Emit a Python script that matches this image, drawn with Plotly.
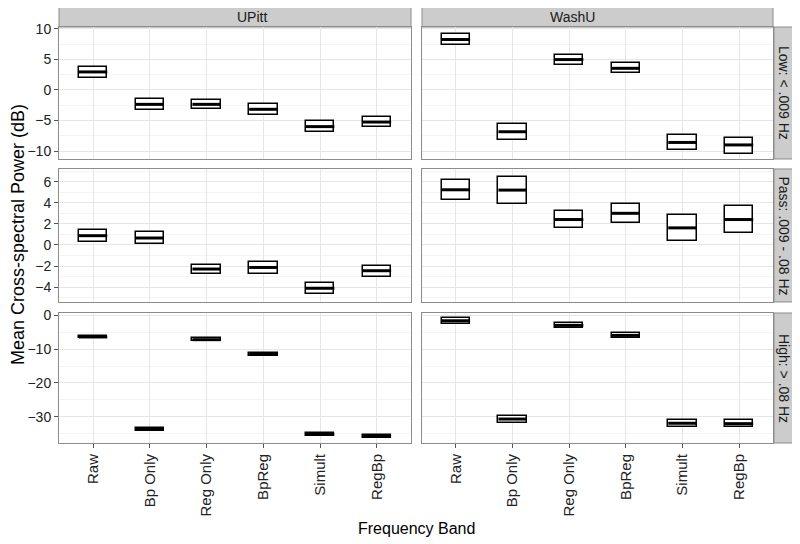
import plotly.graph_objects as go
from plotly.subplots import make_subplots

categories = ["Raw", "Bp Only", "Reg Only", "BpReg", "Simult", "RegBp"]
sites = ["UPitt", "WashU"]
bands = ["Low: < .009 Hz", "Pass: .009 - .08 Hz", "High: > .08 Hz"]

# mean, lower, upper per band (row) and site (column)
low_upitt_mean = [2.95, -2.36, -2.36, -3.17, -6.0, -5.25]
low_upitt_lo = [1.95, -3.24, -3.12, -4.1, -6.9, -6.12]
low_upitt_hi = [3.72, -1.47, -1.65, -2.3, -5.13, -4.42]
low_washu_mean = [8.25, -6.84, 4.97, 3.54, -8.59, -9.0]
low_washu_lo = [7.37, -8.15, 4.08, 2.72, -9.85, -10.4]
low_washu_hi = [9.18, -5.62, 5.8, 4.42, -7.38, -7.8]

pass_upitt_mean = [0.88, 0.66, -2.28, -2.13, -4.1, -2.44]
pass_upitt_lo = [0.32, 0.1, -2.78, -2.75, -4.65, -3.03]
pass_upitt_hi = [1.4, 1.21, -1.88, -1.6, -3.6, -1.98]
pass_washu_mean = [5.23, 5.2, 2.41, 3.0, 1.62, 2.41]
pass_washu_lo = [4.27, 3.89, 1.57, 2.11, 0.38, 1.1]
pass_washu_hi = [6.13, 6.47, 3.22, 3.84, 2.87, 3.69]

high_upitt_mean = [-6.4, -33.7, -7.2, -11.55, -35.2, -35.8]
high_upitt_lo = [-6.8, -34.1, -7.6, -11.95, -35.6, -36.2]
high_upitt_hi = [-6.0, -33.3, -6.8, -11.15, -34.8, -35.4]
high_washu_mean = [-1.6, -30.7, -2.96, -5.93, -31.95, -32.07]
high_washu_lo = [-2.46, -31.87, -3.76, -6.8, -33.05, -33.1]
high_washu_hi = [-0.8, -29.7, -2.18, -5.24, -30.9, -30.97]

data = [
    [(low_upitt_mean, low_upitt_lo, low_upitt_hi), (low_washu_mean, low_washu_lo, low_washu_hi)],
    [(pass_upitt_mean, pass_upitt_lo, pass_upitt_hi), (pass_washu_mean, pass_washu_lo, pass_washu_hi)],
    [(high_upitt_mean, high_upitt_lo, high_upitt_hi), (high_washu_mean, high_washu_lo, high_washu_hi)],
]

y_ranges = [[-11.3, 10.3], [-5.4, 7.2], [-37.8, 0.7]]
y_dticks = [5, 2, 10]

fig = make_subplots(rows=3, cols=2)

xpos = list(range(1, len(categories) + 1))
half = 0.25
for r in range(3):
    for c in range(2):
        mean, lo, hi = data[r][c]
        fig.add_trace(go.Bar(
            x=xpos, y=[h - l for h, l in zip(hi, lo)], base=lo, width=0.5,
            marker=dict(color="white", line=dict(color="black", width=1.5)),
            showlegend=False, hoverinfo="skip"), row=r + 1, col=c + 1)
        mx, my = [], []
        for xi, m in zip(xpos, mean):
            mx += [xi - half, xi + half, None]
            my += [m, m, None]
        fig.add_trace(go.Scatter(
            x=mx, y=my, mode="lines", line=dict(color="black", width=3),
            showlegend=False, hoverinfo="skip"), row=r + 1, col=c + 1)

grid_major = "#e6e6e6"
grid_minor = "#f4f4f4"
border = "#8c8c8c"
FONT = "Liberation Sans, Arial"

x_domains = [[0.0, 0.493], [0.5084, 1.0]]
y_domains = [[0.6827, 1.0], [0.339, 0.6587], [0.0, 0.3125]]

for r in range(3):
    for c in range(2):
        idx = r * 2 + c + 1
        xa = "xaxis" if idx == 1 else f"xaxis{idx}"
        ya = "yaxis" if idx == 1 else f"yaxis{idx}"
        bottom = r == 2
        left = c == 0
        fig.layout[xa].update(
            domain=x_domains[c], range=[0.4, 6.6],
            tickmode="array", tickvals=xpos,
            ticktext=categories if bottom else [""] * 6,
            showticklabels=bottom, tickangle=-90,
            ticks="outside" if bottom else "", ticklen=4, tickcolor="#555555",
            showgrid=True, gridcolor=grid_major, gridwidth=1,
            showline=True, mirror=True, linecolor=border, linewidth=1,
            zeroline=False, automargin=False,
            tickfont=dict(family=FONT, size=15, color="#222222"),
        )
        fig.layout[ya].update(
            domain=y_domains[r], range=y_ranges[r],
            dtick=y_dticks[r], tick0=0,
            showticklabels=left,
            ticks="outside" if left else "", ticklen=4, tickcolor="#555555",
            showgrid=True, gridcolor=grid_major, gridwidth=1,
            minor=dict(dtick=y_dticks[r] / 2, showgrid=True, gridcolor=grid_minor, gridwidth=1, ticks=""),
            showline=True, mirror=True, linecolor=border, linewidth=1,
            zeroline=False, automargin=False,
            tickfont=dict(family=FONT, size=14, color="#222222"),
        )

# page body has an 8px offset; compensate so the plot area sits at 59..773 x 27..443
W, H = 792, 536
L, R, T, B = 51, 27, 19, 101
pw, ph = W - L - R, H - T - B

shapes = []
annotations = []
strip_fill = "#cccccc"
strip_line = "#8c8c8c"
# top strips
strip_top = 21 / ph
for c in range(2):
    shapes.append(dict(type="rect", xref="paper", yref="paper",
                       x0=x_domains[c][0], x1=x_domains[c][1], y0=1.0, y1=1.0 + strip_top,
                       fillcolor=strip_fill, line=dict(color=strip_line, width=1), layer="below"))
    annotations.append(dict(xref="paper", yref="paper",
                            x=(x_domains[c][0] + x_domains[c][1]) / 2, y=1.0 + strip_top / 2,
                            text=sites[c], showarrow=False, yanchor="middle",
                            font=dict(family=FONT, size=14, color="#1a1a1a")))
# right strips
sx0 = 1.0 + 1 / pw
sx1 = 1.0 + 21 / pw
for r in range(3):
    shapes.append(dict(type="rect", xref="paper", yref="paper",
                       x0=sx0, x1=sx1, y0=y_domains[r][0], y1=y_domains[r][1],
                       fillcolor=strip_fill, line=dict(color=strip_line, width=1), layer="below"))
    annotations.append(dict(xref="paper", yref="paper",
                            x=(sx0 + sx1) / 2, y=(y_domains[r][0] + y_domains[r][1]) / 2,
                            text=bands[r], showarrow=False, textangle=90,
                            xanchor="center", yanchor="middle",
                            font=dict(family=FONT, size=14, color="#1a1a1a")))
# axis titles
annotations.append(dict(xref="paper", yref="paper", x=0.5, y=-(528 - 443) / ph,
                        text="Frequency Band", showarrow=False, yanchor="middle",
                        font=dict(family=FONT, size=16, color="black")))
annotations.append(dict(xref="paper", yref="paper", x=-(59 - 18) / pw, y=0.5,
                        text="Mean Cross-spectral Power (dB)", showarrow=False, textangle=-90,
                        xanchor="center", yanchor="middle",
                        font=dict(family=FONT, size=18, color="black")))

fig.update_layout(
    width=W, height=H,
    margin=dict(l=L, r=R, t=T, b=B, autoexpand=False),
    paper_bgcolor="white", plot_bgcolor="white",
    shapes=shapes, annotations=annotations,
    showlegend=False, bargap=0,
)

fig.write_html("out.html")
